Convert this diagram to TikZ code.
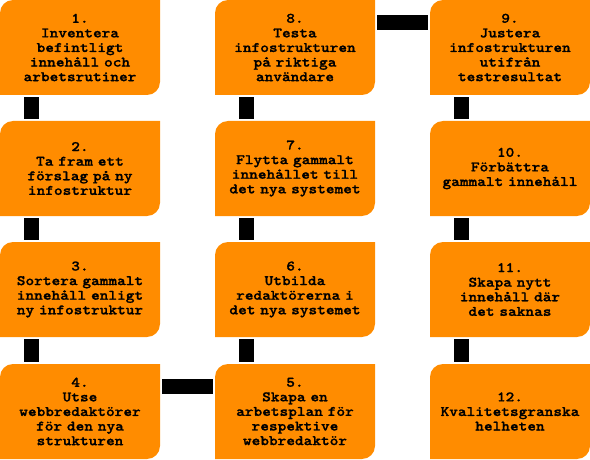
\documentclass[tikz,border=0pt]{standalone}
\usepackage{fontspec}
\usepackage{tikz}
\newfontfamily\stepfont{lmmonolt10-bold.otf}[FakeStretch=1.14, FakeBold=1.2]
\definecolor{steporange}{RGB}{255,140,0}
\def\stepbox(#1,#2)[#3]#4{%
	\fill[boxfill] (#1,#2-95) -- (#1,#2-13) arc (180:90:13) -- (#1+160,#2) -- (#1+160,#2-82) arc (0:-90:13) -- cycle;
	\node[steptext] (#3) at (#1+80,#2-47.5) {#4};
}

\begin{document}
\begin{tikzpicture}[x=1pt, y=1pt,
		boxfill/.style={fill=steporange},
		steptext/.style={minimum width=160pt, minimum height=95pt, inner sep=0pt, text width=158pt, align=center, font=\stepfont\fontsize{14.5}{14.6}\selectfont},
		link/.style={line width=15pt, draw=black, shorten <=2pt, shorten >=2pt}]
			%%%%% START %%%%%
			
			\useasboundingbox (0,0) rectangle (590,-460);
			
			\stepbox(0,0)[s1]{1.\\Inventera\\befintligt\\innehåll och\\arbetsrutiner}
			\stepbox(0,-121)[s2]{2.\\Ta fram ett\\förslag på ny\\infostruktur}
			\stepbox(0,-242)[s3]{3.\\Sortera gammalt\\innehåll enligt\\ny infostruktur}
			\stepbox(0,-364)[s4]{4.\\Utse\\webbredaktörer\\för den nya\\strukturen}
			
			\stepbox(215,-364)[s5]{5.\\Skapa en\\arbetsplan för\\respektive\\webbredaktör}
			\stepbox(215,-242)[s6]{6.\\Utbilda\\redaktörerna i\\det nya systemet}
			\stepbox(215,-121)[s7]{7.\\Flytta gammalt\\innehållet till\\det nya systemet}
			\stepbox(215,0)[s8]{8.\\Testa\\infostrukturen\\på riktiga\\användare}
			
			\stepbox(430,0)[s9]{9.\\Justera\\infostrukturen\\utifrån\\testresultat}
			\stepbox(430,-121)[s10]{10.\\Förbättra\\gammalt innehåll}
			\stepbox(430,-242)[s11]{11.\\Skapa nytt\\innehåll där\\det saknas}
			\stepbox(430,-364)[s12]{12.\\Kvalitetsgranska\\helheten}
			
			\draw[link] ([xshift=31.5pt]s1.south west) -- ([xshift=31.5pt]s2.north west);
			\draw[link] ([xshift=31.5pt]s2.south west) -- ([xshift=31.5pt]s3.north west);
			\draw[link] ([xshift=31.5pt]s3.south west) -- ([xshift=31.5pt]s4.north west);
			\draw[link] ([yshift=-23pt]s4.north east) -- ([yshift=-23pt]s5.north west);
			\draw[link] ([xshift=31.5pt]s5.north west) -- ([xshift=31.5pt]s6.south west);
			\draw[link] ([xshift=31.5pt]s6.north west) -- ([xshift=31.5pt]s7.south west);
			\draw[link] ([xshift=31.5pt]s7.north west) -- ([xshift=31.5pt]s8.south west);
			\draw[link] ([yshift=-23pt]s8.north east) -- ([yshift=-23pt]s9.north west);
			\draw[link] ([xshift=31.5pt]s9.south west) -- ([xshift=31.5pt]s10.north west);
			\draw[link] ([xshift=31.5pt]s10.south west) -- ([xshift=31.5pt]s11.north west);
			\draw[link] ([xshift=31.5pt]s11.south west) -- ([xshift=31.5pt]s12.north west);
			
			%%%%% END %%%%%
\end{tikzpicture}
\end{document}
